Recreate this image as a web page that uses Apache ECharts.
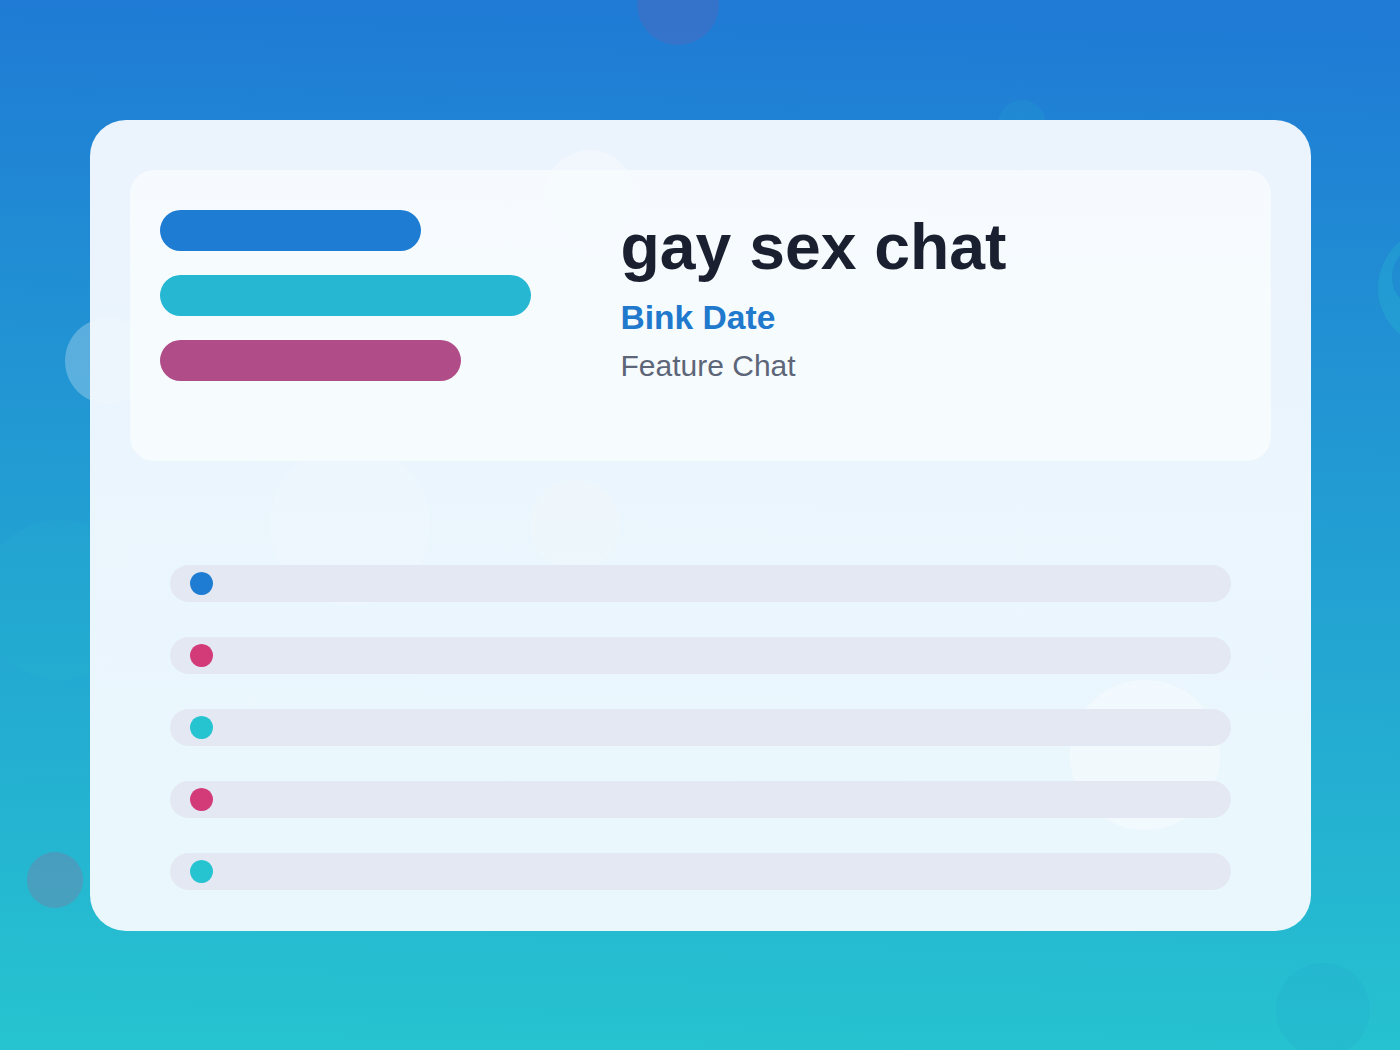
<!DOCTYPE html>
<html><head><meta charset="utf-8">
<script src="https://cdn.jsdelivr.net/npm/echarts@6/dist/echarts.min.js"></script>
<style>html,body{margin:0;padding:0;overflow:hidden}#c{width:1400px;height:1050px}</style>
</head><body><div id="c"></div>
<script>
const topCategories = ['A','B','C'];
const topValues = [261, 371, 301];
const topColors = ['#1e7dd2','#26b7d3','#b04d88'];
const rowCategories = ['1','2','3','4','5'];
const rowTrack = [100,100,100,100,100];
const rowDots = [2.97,2.97,2.97,2.97,2.97];
const rowColors = ['#1e7dd2','#d33a78','#26c3d1','#d33a78','#26c3d1'];
const titleText = 'gay sex chat';
const subtitleText = 'Bink Date';
const captionText = 'Feature Chat';

const font = '"Liberation Sans", Arial, sans-serif';
const circle = (cx,cy,r,fill,extra) => Object.assign({type:'circle',shape:{cx,cy,r},style:{fill},z:1,silent:true},extra||{});
const cardFill = new echarts.graphic.LinearGradient(0,0,0,1,[{offset:0,color:'rgba(246,249,255,0.95)'},{offset:1,color:'rgba(244,251,255,0.95)'}]);
const chart = echarts.init(document.getElementById('c'),null,{renderer:'svg'});
chart.setOption({
  animation:false,
  graphic:{elements:[
    {type:'rect',shape:{x:0,y:0,width:1400,height:1050},z:0,silent:true,
     style:{fill:new echarts.graphic.LinearGradient(0.03,0,0,1,[{offset:0,color:'#1f7bd5'},{offset:1,color:'#26c4d0'}])}},
    circle(678,4,41,'rgba(214,58,122,0.12)'),
    circle(1022,124,24,'rgba(38,195,209,0.12)'),
    circle(108,361,43,'rgba(255,255,255,0.26)'),
    circle(60,600,80,'rgba(38,195,209,0.1)'),
    circle(55,880,28,'rgba(214,58,122,0.2)'),
    circle(1323,1010,47,'rgba(30,125,210,0.08)'),
    circle(1438,288,60,'rgba(38,195,209,0.25)'),
    circle(1425,277,33,'rgba(30,125,210,0.5)'),
    circle(590,195,45,'rgba(255,255,255,0.6)'),
    circle(350,525,80,'rgba(255,255,255,0.25)'),
    circle(575,525,45,'rgba(255,230,160,0.3)'),
    circle(1145,755,75,'rgba(255,255,255,0.7)'),
    {type:'rect',shape:{x:90,y:120,width:1221,height:811,r:36},z:2,silent:true,style:{fill:cardFill}},
    {type:'rect',shape:{x:130,y:170,width:1141,height:291,r:24},z:3,silent:true,style:{fill:'rgba(246,251,254,0.92)'}},
    {type:'text',x:620.5,y:247,z:4,silent:true,style:{text:titleText,fill:'#1a2030',font:'bold 64.3px '+font,textVerticalAlign:'middle'}},
    {type:'text',x:620.5,y:317,z:4,silent:true,style:{text:subtitleText,fill:'#2079cc',font:'bold 33.6px '+font,textVerticalAlign:'middle'}},
    {type:'text',x:620.5,y:365,z:4,silent:true,style:{text:captionText,fill:'#5d6678',font:'30px '+font,textVerticalAlign:'middle'}}
  ]},
  grid:[
    {left:160,top:198,width:400,height:195},
    {left:170,top:547.5,width:1061,height:360}
  ],
  xAxis:[
    {gridIndex:0,type:'value',min:0,max:400,show:false},
    {gridIndex:1,type:'value',min:0,max:100,show:false}
  ],
  yAxis:[
    {gridIndex:0,type:'category',inverse:true,data:topCategories,show:false},
    {gridIndex:1,type:'category',inverse:true,data:rowCategories,show:false}
  ],
  series:[
    {type:'bar',xAxisIndex:0,yAxisIndex:0,z:5,barWidth:41,silent:true,
     itemStyle:{borderRadius:20.5},
     data:topValues.map((v,i)=>({value:v,itemStyle:{color:topColors[i]}}))},
    {type:'bar',xAxisIndex:1,yAxisIndex:1,z:5,barWidth:37,silent:true,
     itemStyle:{borderRadius:18.5,color:'#e3e8f2'},data:rowTrack},
    {type:'scatter',xAxisIndex:1,yAxisIndex:1,z:6,symbolSize:23,silent:true,
     data:rowDots.map((v,i)=>({value:[v,rowCategories[i]],itemStyle:{color:rowColors[i],opacity:1}}))}
  ]
});
</script></body></html>
